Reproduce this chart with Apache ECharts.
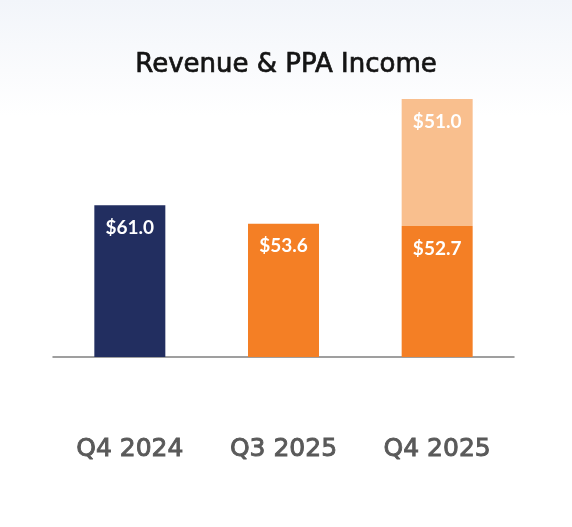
<!DOCTYPE html>
<html>
<head>
<meta charset="utf-8">
<script src="https://cdn.jsdelivr.net/npm/echarts@6/dist/echarts.min.js"></script>
<style>
html,body{margin:0;padding:0;background:#fff;}
#chart{width:572px;height:527px;}
</style>
</head>
<body>
<div id="chart"></div>
<script>
const categories = ['Q4 2024', 'Q3 2025', 'Q4 2025'];
const revenue = [61.0, 53.6, 52.7];
const ppaIncome = [null, null, 51.0];
const revenueColors = ['#222e60', '#f47f25', '#f47f25'];
const titleText = 'Revenue & PPA Income';

const chart = echarts.init(document.getElementById('chart'));
const labelStyle = {
  show: true,
  position: 'insideTop',
  distance: 13,
  color: '#ffffff',
  fontFamily: 'Lato',
  fontWeight: 'bold',
  fontSize: 19,
  formatter: p => '$' + p.value.toFixed(1)
};
chart.setOption({
  animation: false,
  backgroundColor: {
    type: 'linear', x: 0, y: 0, x2: 0, y2: 1,
    colorStops: [
      { offset: 0, color: '#f2f5fa' },
      { offset: 0.22, color: '#ffffff' },
      { offset: 1, color: '#ffffff' }
    ]
  },
  title: {
    text: titleText,
    left: 'center',
    top: 47,
    textStyle: {
      fontFamily: 'DejaVu Sans',
      fontWeight: 'normal',
      fontSize: 26,
      color: '#141414',
      textBorderColor: '#141414',
      textBorderWidth: 0.7
    }
  },
  grid: { left: 53, right: 58, top: 99, bottom: 170, containLabel: false },
  xAxis: {
    type: 'category',
    data: categories,
    axisLine: { show: true, lineStyle: { color: '#808080', width: 1.5 } },
    axisTick: { show: false },
    axisLabel: {
      margin: 80,
      color: '#595959',
      fontFamily: 'DejaVu Sans',
      fontWeight: 'normal',
      fontSize: 25,
      textBorderColor: '#595959',
      textBorderWidth: 0.9
    }
  },
  yAxis: {
    type: 'value',
    min: 0,
    max: 103.7,
    show: false,
    splitLine: { show: false }
  },
  series: [
    {
      name: 'Revenue',
      type: 'bar',
      stack: 'total',
      barWidth: 71,
      data: revenue.map((v, i) => ({ value: v, itemStyle: { color: revenueColors[i] } })),
      label: labelStyle
    },
    {
      name: 'PPA Income',
      type: 'bar',
      stack: 'total',
      barWidth: 71,
      itemStyle: { color: '#f9bf8e' },
      data: ppaIncome,
      label: Object.assign({}, labelStyle, {
        formatter: p => p.value == null ? '' : '$' + p.value.toFixed(1)
      })
    }
  ]
});
</script>
</body>
</html>
